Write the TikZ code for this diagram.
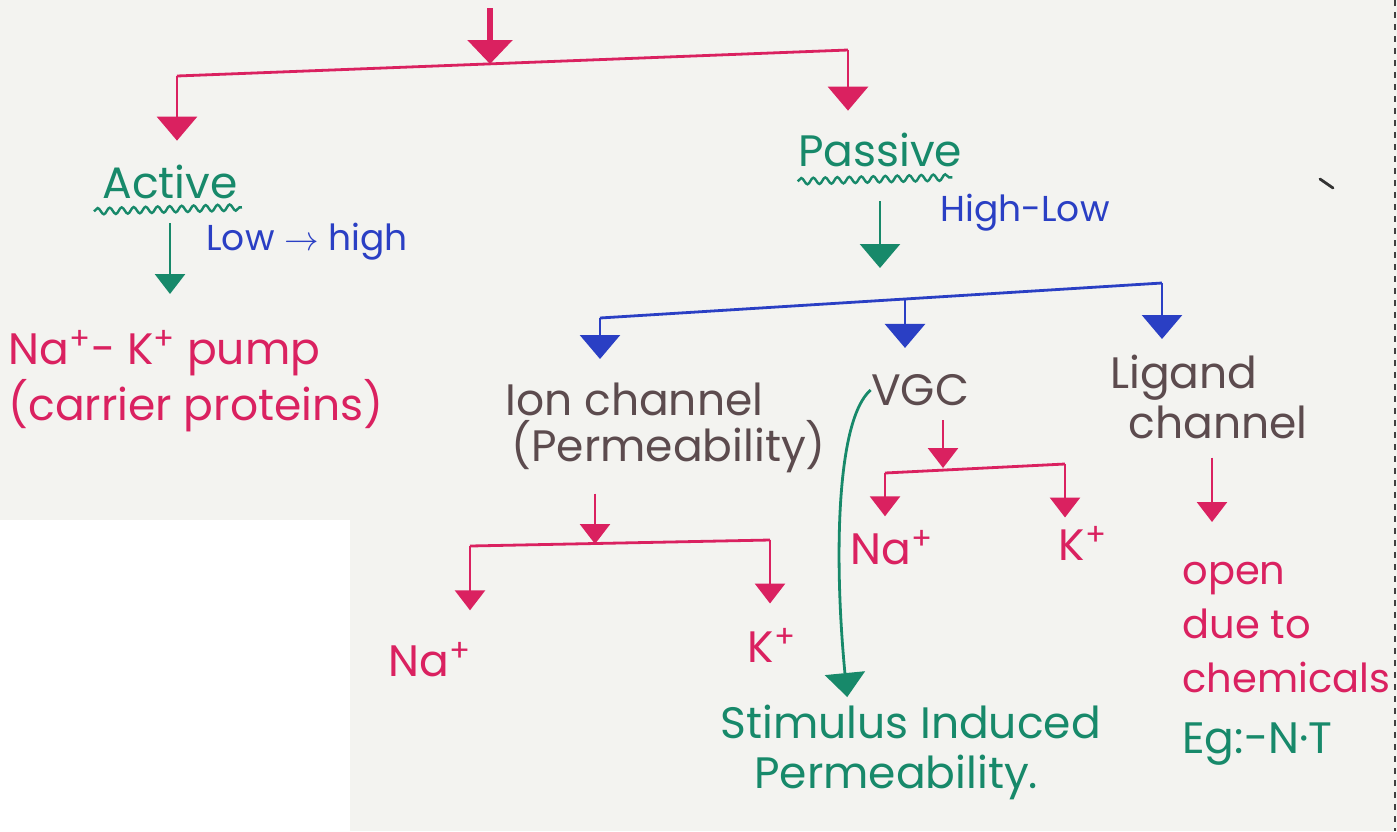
\documentclass[tikz,border=0pt]{standalone}
\usepackage{fontspec}
\setmainfont{Poppins}
\usetikzlibrary{arrows.meta, decorations.pathmorphing, calc}

\definecolor{inkpink}{HTML}{DA2160}
\definecolor{inkgreen}{HTML}{17896A}
\definecolor{inkblue}{HTML}{2A3FC4}
\definecolor{inkdark}{HTML}{5C4B4E}
\definecolor{paper}{HTML}{F3F3F0}

\tikzset{
  txt/.style={inner sep=0pt, font=\fontsize{22}{26}\selectfont},
  note/.style={inner sep=0pt, font=\fontsize{18}{22}\selectfont},
  wire/.style={line width=1.4pt},
  bigtip/.style={wire, -{Triangle[width=20pt,length=12pt]}},
  tip/.style={wire, -{Triangle[width=15pt,length=10pt]}},
  wavy/.style={line width=1.2pt, decorate,
    decoration={snake, segment length=6pt, amplitude=1.6pt}}
}

\begin{document}
\begin{tikzpicture}[x=0.5pt, y=-0.5pt]
  % sheet
  \fill[paper] (0,0) rectangle (1397,831);
  \fill[white] (0,520) rectangle (350,831);
  \useasboundingbox (0,0) rectangle (1397,831);
  \draw[black!75, dashed, line width=0.6pt] (1395,0) -- (1395,831);
  \draw[black!80, line width=1.4pt, line cap=round] (1320,179) -- (1333,188);

  % first split
  \node[txt, inkgreen] (active) at (170,182) {Active};
  \node[txt, inkgreen] (passive) at (880,150) {Passive};
  \node[note, inkblue] (lowhigh) at (307,242) {Low $\to$ high};
  \node[note, inkblue] (highlow) at (1025,213) {High-Low};
  \draw[inkgreen, wavy] ($(active.south west)+(-8,12)$) -- ($(active.south east)+(4,8)$);
  \draw[inkgreen, wavy] ($(passive.south west)+(0,14)$) -- ($(passive.south east)+(-10,10)$);

  % active transport
  \node[txt, inkpink, anchor=north west, align=left,
        font=\fontsize{22}{28}\selectfont] (pump) at (8,330)
    {Na\textsuperscript{+}- K\textsuperscript{+} pump\\(carrier proteins)};

  % passive transport
  \node[txt, inkdark, anchor=north west, align=left,
        font=\fontsize{22}{23}\selectfont] (ion) at (505,383)
    {Ion channel\\\hspace*{3pt}(Permeability)};
  \node[txt, inkdark] (vgc) at (920,390) {VGC};
  \node[txt, inkdark, anchor=north west, align=left,
        font=\fontsize{22}{25}\selectfont] (ligand) at (1110,355)
    {Ligand\\\hspace*{9pt}channel};
  \node[txt, inkpink, anchor=north west, align=left,
        font=\fontsize{20}{27}\selectfont] (open) at (1182,562)
    {open\\due to\\chemicals};
  \node[txt, inkgreen, anchor=north west] (eg) at (1182,722) {Eg:-N·T};
  \node[txt, inkgreen, anchor=north west, align=left,
        font=\fontsize{22}{25}\selectfont] (stim) at (720,705)
    {Stimulus Induced\\\hspace*{17pt}Permeability.};

  % ions
  \node[txt, inkpink] (na1) at (430,660) {Na\textsuperscript{+}};
  \node[txt, inkpink] (k1) at (772,645) {K\textsuperscript{+}};
  \node[txt, inkpink] (na2) at (892,548) {Na\textsuperscript{+}};
  \node[txt, inkpink] (k2) at (1083,543) {K\textsuperscript{+}};

  % pink fork at the top
  \coordinate (src) at (490,8);
  \coordinate (barL) at (177,76);
  \coordinate (barM) at (490,64);
  \coordinate (barR) at (848,50);
  \draw[inkpink, line width=3pt, -{Triangle[width=22pt,length=12pt]}] (src) -- (barM);
  \draw[inkpink, wire] (barL) -- (barR);
  \draw[inkpink, bigtip, shorten >=12pt] (barL) -- (barL |- active.north);
  \draw[inkpink, bigtip, shorten >=11pt] (barR) -- (barR |- passive.north);

  % green arrows under the two kinds
  \draw[inkgreen, tip, shorten <=12pt, shorten >=18pt] (active.south) -- (active.south |- pump.north);
  \coordinate (bbL) at (600,318);
  \coordinate (bbM) at (905,300);
  \coordinate (bbR) at (1162,283);
  \draw[inkgreen, bigtip, shorten <=17pt, shorten >=16pt] (passive.south) -- (passive.south |- bbM);

  % blue fork
  \draw[inkblue, wire] (bbL) -- (bbR);
  \draw[inkblue, bigtip, shorten >=12pt] (bbL) -- (bbL |- ion.north);
  \draw[inkblue, bigtip, shorten >=13pt] (bbM) -- (bbM |- vgc.north);
  \draw[inkblue, bigtip, shorten >=8pt] (bbR) -- (bbR |- ligand.north);

  % ion channel fork
  \coordinate (isL) at (470,546);
  \coordinate (isM) at (595,544);
  \coordinate (isR) at (770,540);
  \draw[inkpink, tip, shorten <=10pt] (ion.south -| isM) -- (isM);
  \draw[inkpink, wire] (isL) -- (isR);
  \draw[inkpink, tip, shorten >=16pt] (isL) -- (isL |- na1.north);
  \draw[inkpink, tip, shorten >=12pt] (isR) -- (isR |- k1.north);

  % VGC fork
  \coordinate (vsL) at (885,473);
  \coordinate (vsM) at (943,468);
  \coordinate (vsR) at (1065,464);
  \draw[inkpink, tip, shorten <=7pt] (vgc.south -| vsM) -- (vsM);
  \draw[inkpink, wire] (vsL) -- (vsR);
  \draw[inkpink, tip, shorten >=7pt] (vsL) -- (vsL |- na2.north);
  \draw[inkpink, tip, shorten >=4pt] (vsR) -- (vsR |- k2.north);

  % ligand channel
  \draw[inkpink, tip, shorten <=9pt, shorten >=20pt]
    ([xshift=51pt]ligand.south west) -- ([xshift=51pt]ligand.south west |- open.north);

  % VGC to stimulus induced permeability
  \draw[inkgreen, bigtip, shorten >=4pt]
    (vgc.west) .. controls (836,420) and (834,560) .. ([xshift=64pt]stim.north west);
\end{tikzpicture}
\end{document}
